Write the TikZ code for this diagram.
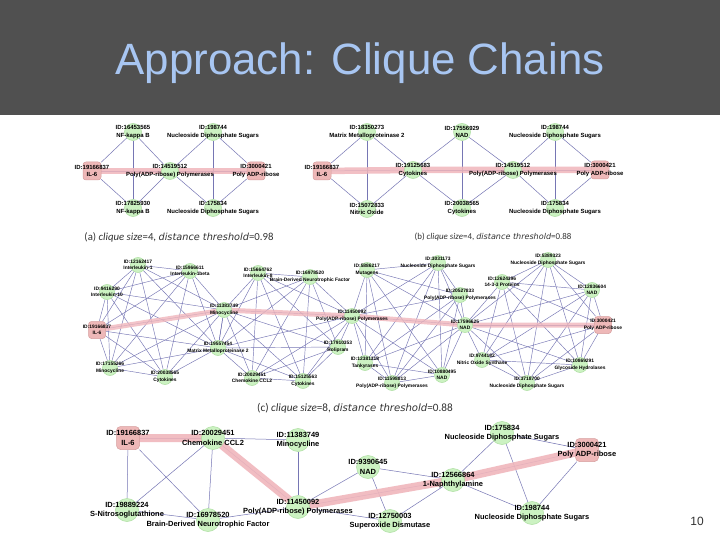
\documentclass[tikz,border=0pt]{standalone}
\usepackage{fontspec}
\setmainfont{Liberation Sans}
\newfontfamily\capfont{Carlito}
\newfontfamily\capwide{DejaVu Sans}
\pgfdeclarelayer{bglayer}
\pgfdeclarelayer{redlayer}
\pgfdeclarelayer{edgelayer}
\pgfsetlayers{bglayer,edgelayer,redlayer,main}
\definecolor{titlebar}{RGB}{80,80,80}
\definecolor{titleblue}{RGB}{168,198,242}
\definecolor{gfill}{RGB}{204,242,194}
\definecolor{gdraw}{RGB}{172,222,160}
\definecolor{rfill}{RGB}{238,184,184}
\definecolor{rdraw}{RGB}{214,158,158}
\definecolor{pathred}{RGB}{240,182,188}
\definecolor{edgec}{RGB}{118,118,180}
\definecolor{capc}{RGB}{50,50,50}
\newcommand\nd[6]{\node[#1] (#2) at (#3,#4) {};\node[#5] (#2t) at (#2.center) {#6};}
\newcommand\cliq[2]{\foreach \a [count=\i] in {#2}{\foreach \b [count=\j] in {#2}{\ifnum\j>\i\relax\draw[#1] (\a)--(\b);\fi}}}
\newcommand\wideit[1]{{\capwide\itshape\fontsize{9.4}{11}\selectfont #1}}
\begin{document}
\begin{tikzpicture}[x=1bp,y=-1bp,
  gA/.style={circle,fill=gfill,draw=gdraw,line width=0.5bp,minimum size=17bp,inner sep=0pt},
  gC/.style={gA,minimum size=15bp},
  gD/.style={gA,minimum size=23bp},
  rA/.style={rectangle,rounded corners=3bp,fill=rfill,draw=rdraw,line width=0.5bp,minimum size=18bp,inner sep=0pt},
  rC/.style={rA,minimum size=17bp},
  rD/.style={rA,rounded corners=4bp,minimum size=23bp},
  tA/.style={font=\bfseries\fontsize{6}{7.6}\selectfont,align=center,inner sep=0pt},
  tC/.style={font=\bfseries\fontsize{4.9}{6.6}\selectfont,align=center,inner sep=0pt},
  tD/.style={font=\bfseries\fontsize{7.5}{9.4}\selectfont,align=center,inner sep=0pt},
  ed/.style={draw=edgec,line width=0.5bp},
  edc/.style={draw=edgec,line width=0.45bp},
  redA/.style={draw=pathred,draw opacity=0.85,line width=6.5bp,line join=round},
  redC/.style={draw=pathred,draw opacity=0.8,line width=5bp,line join=round},
  redD/.style={draw=pathred,draw opacity=0.9,line width=8bp,line join=round},
  captext/.style={font=\capfont\fontsize{10.4}{11}\selectfont,text=capc,inner sep=0pt}]
\useasboundingbox (0,0) rectangle (720,540);
\begin{pgfonlayer}{bglayer}
\fill[white] (0,0) rectangle (720,540);
\fill[titlebar] (0,0) rectangle (720,115);
\end{pgfonlayer}
\node[anchor=base,font=\fontsize{44}{44}\selectfont,text=titleblue,inner sep=0pt] (title) at (360,75) {Approach: Clique Chains};
\node[font=\fontsize{12}{12}\selectfont,text=capc,inner sep=0pt] (pagenum) at (697,521) {10};

% ---------- panel (a)
\nd{gA}{nfkA}{133}{132}{tA}{ID:16453565\\NF-kappa B}
\nd{gA}{ndsA}{213}{132}{tA}{ID:198744\\Nucleoside Diphosphate Sugars}
\nd{rA}{ilA}{92}{171}{tA}{ID:19166837\\IL-6}
\nd{gA}{parpA}{170}{171}{tA}{ID:14519512\\Poly(ADP-ribose) Polymerases}
\nd{rA}{polyA}{256}{171}{tA}{ID:3000421\\Poly ADP-ribose}
\nd{gA}{nfkbA}{133}{208}{tA}{ID:17825930\\NF-kappa B}
\nd{gA}{ndsbA}{213}{208}{tA}{ID:175834\\Nucleoside Diphosphate Sugars}
\node[captext,scale=1.04] (capA) at (179,237) {(a) \textit{clique size}=4, \wideit{distance threshold}=0.98};

% ---------- panel (b)
\nd{rA}{ilB}{322}{171}{tA}{ID:19166837\\IL-6}
\nd{gA}{mmpB}{367}{132}{tA}{ID:18350273\\Matrix Metalloproteinase 2}
\nd{gA}{noB}{367}{209}{tA}{ID:15072833\\Nitric Oxide}
\nd{gA}{cytB}{413}{170}{tA}{ID:19125683\\Cytokines}
\nd{gA}{nadB}{462}{132}{tA}{ID:17556929\\NAD}
\nd{gA}{cytbB}{462}{208}{tA}{ID:20038565\\Cytokines}
\nd{gA}{parpB}{513}{170}{tA}{ID:14519512\\Poly(ADP-ribose) Polymerases}
\nd{gA}{ndsB}{555}{132}{tA}{ID:198744\\Nucleoside Diphosphate Sugars}
\nd{gA}{ndsbB}{555}{208}{tA}{ID:175834\\Nucleoside Diphosphate Sugars}
\nd{rA}{polyB}{600}{170}{tA}{ID:3000421\\Poly ADP-ribose}
\node[captext,scale=0.86] (capB) at (493,237) {(b) \textit{clique size}=4, \wideit{distance threshold}=0.88};

% ---------- panel (c)
\nd{gC}{ilaC}{138}{265}{tC}{ID:12162417\\Interleukin-1}
\nd{gC}{ilbC}{190}{271}{tC}{ID:15966611\\Interleukin-1beta}
\nd{gC}{ilcC}{107}{292}{tC}{ID:9416290\\Interleukin-10}
\nd{rC}{ilC}{97}{330}{tC}{ID:19166837\\IL-6}
\nd{gC}{minaC}{110}{368}{tC}{ID:17155266\\Minocycline}
\nd{gC}{cytaC}{165}{377}{tC}{ID:20038565\\Cytokines}
\nd{gC}{mmpC}{218}{348}{tC}{ID:19557454\\Matrix Metalloproteinase 2}
\nd{gC}{minC}{224}{310}{tC}{ID:11383749\\Minocycline}
\nd{gC}{ildC}{258}{273}{tC}{ID:15664762\\Interleukin-8}
\nd{gC}{bdnfC}{310}{277}{tC}{ID:16978520\\Brain-Derived Neurotrophic Factor}
\nd{gC}{parpC}{352}{316}{tC}{ID:11450092\\Poly(ADP-ribose) Polymerases}
\nd{gC}{rolC}{338}{347}{tC}{ID:17910353\\Rolipram}
\nd{gC}{cclC}{252}{378}{tC}{ID:20029451\\Chemokine CCL2}
\nd{gC}{cytbC}{303}{381}{tC}{ID:15125563\\Cytokines}
\nd{gC}{mutC}{367}{270}{tC}{ID:5886217\\Mutagens}
\nd{gC}{ndsaC}{438}{263}{tC}{ID:3031173\\Nucleoside Diphosphate Sugars}
\nd{gC}{parpbC}{460}{295}{tC}{ID:20527833\\Poly(ADP-ribose) Polymerases}
\nd{gC}{nadC}{465}{325}{tC}{ID:17596625\\NAD}
\nd{gC}{tankC}{365}{363}{tC}{ID:12381318\\Tankyrases}
\nd{gC}{nadbC}{442}{375}{tC}{ID:10880495\\NAD}
\nd{gC}{parpcC}{392}{383}{tC}{ID:11598813\\Poly(ADP-ribose) Polymerases}
\nd{gC}{nosC}{482}{360}{tC}{ID:9744182\\Nitric Oxide Synthase}
\nd{gC}{protC}{502}{282}{tC}{ID:12624396\\14-3-3 Proteins}
\nd{gC}{ndsbC}{548}{260}{tC}{ID:5389323\\Nucleoside Diphosphate Sugars}
\nd{gC}{nadcC}{592}{290}{tC}{ID:12836604\\NAD}
\nd{rC}{polyC}{603}{325}{tC}{ID:3000421\\Poly ADP-ribose}
\nd{gC}{glyC}{580}{365}{tC}{ID:10869291\\Glycoside Hydrolases}
\nd{gC}{ndscC}{527}{383}{tC}{ID:3718700\\Nucleoside Diphosphate Sugars}
\node[captext,scale=1.08] (capC) at (355,408.5) {(c) \textit{clique size}=8, \wideit{distance threshold}=0.88};

% ---------- panel (d)
\nd{rD}{ilD}{128}{438}{tD}{ID:19166837\\IL-6}
\nd{gD}{cclD}{213}{438}{tD}{ID:20029451\\Chemokine CCL2}
\nd{gD}{minD}{298}{440}{tD}{ID:11383749\\Minocycline}
\nd{gD}{snoD}{127}{510}{tD}{ID:19889224\\S-Nitrosoglutathione}
\nd{gD}{bdnfD}{208}{520}{tD}{ID:16978520\\Brain-Derived Neurotrophic Factor}
\nd{gD}{parpD}{298}{507}{tD}{ID:11450092\\Poly(ADP-ribose) Polymerases}
\nd{gD}{nadD}{368}{467}{tD}{ID:9390645\\NAD}
\nd{gD}{sodD}{390}{521}{tD}{ID:12750003\\Superoxide Dismutase}
\nd{gD}{naphD}{453}{480}{tD}{ID:12566864\\1-Naphthylamine}
\nd{gD}{ndsaD}{502}{433}{tD}{ID:175834\\Nucleoside Diphosphate Sugars}
\nd{rD}{polyD}{587}{450}{tD}{ID:3000421\\Poly ADP-ribose}
\nd{gD}{ndsbD}{532}{513}{tD}{ID:198744\\Nucleoside Diphosphate Sugars}

% ---------- highlighted chains
\begin{pgfonlayer}{redlayer}
\draw[redA] (ilA.center) -- (parpA.center) -- (polyA.center);
\draw[redA] (ilB.center) -- (cytB.center) -- (parpB.center) -- (polyB.center);
\draw[redC] (ilC.center) -- (minC.center) -- (parpC.center) -- (nadC.center) -- (polyC.center);
\draw[redD] (ilD.center) -- (cclD.center) -- (parpD.center) -- (naphD.center) -- (polyD.center);
\end{pgfonlayer}

% ---------- edges
\begin{pgfonlayer}{edgelayer}
\cliq{ed}{ilA,nfkA,nfkbA,parpA}
\cliq{ed}{parpA,ndsA,ndsbA,polyA}
\cliq{ed}{ilB,mmpB,noB,cytB}
\cliq{ed}{cytB,nadB,cytbB,parpB}
\cliq{ed}{parpB,ndsB,ndsbB,polyB}
\cliq{edc}{ilC,ilaC,ilbC,ilcC,minaC,cytaC,mmpC,minC}
\cliq{edc}{minC,ildC,bdnfC,mmpC,cclC,cytbC,rolC,parpC}
\cliq{edc}{parpC,mutC,ndsaC,parpbC,nadC,tankC,nadbC,parpcC}
\cliq{edc}{nadC,protC,ndsbC,nadcC,polyC,glyC,ndscC,nosC}
\cliq{ed}{ilD,cclD,snoD,bdnfD}
\draw[ed] (cclD) -- (minD);
\draw[ed] (cclD) -- (parpD);
\draw[ed] (minD) -- (parpD);
\draw[ed] (bdnfD) -- (parpD);
\cliq{ed}{parpD,nadD,sodD,naphD}
\cliq{ed}{naphD,ndsaD,ndsbD,polyD}
\end{pgfonlayer}
\end{tikzpicture}
\end{document}
